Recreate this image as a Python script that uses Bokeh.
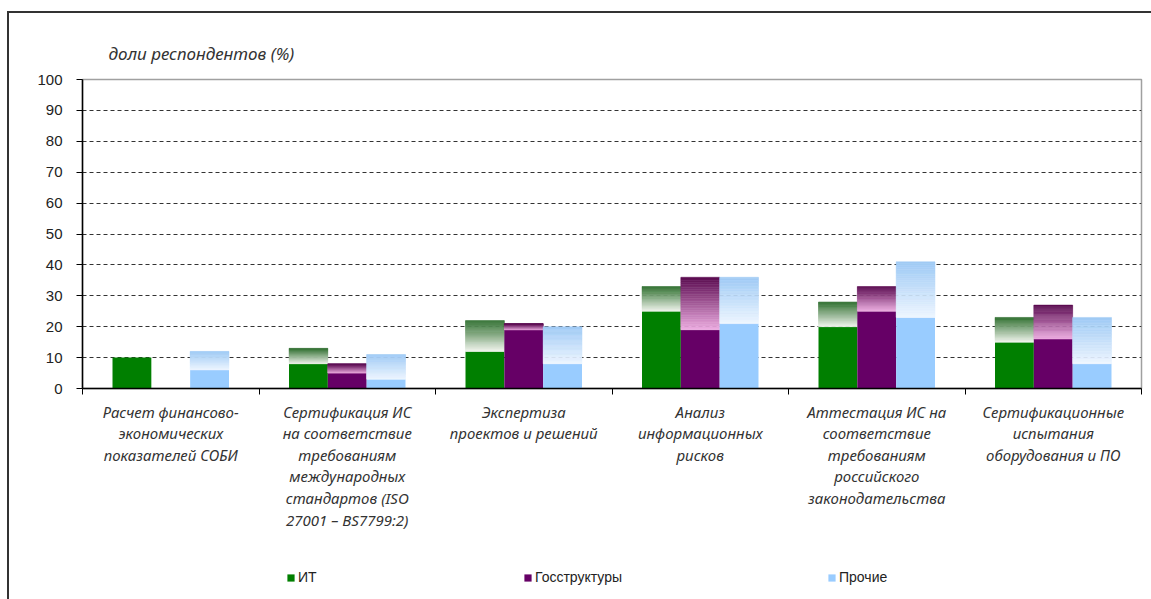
import numpy as np
from bokeh.plotting import figure
from bokeh.layouts import column
from bokeh.models import Range1d, FixedTicker, Legend, LegendItem
from bokeh.embed import file_html
from bokeh.resources import INLINE

categories = [
    "Расчет финансово-\nэкономических\nпоказателей СОБИ",
    "Сертификация ИС\nна соответствие\nтребованиям\nмеждународных\nстандартов (ISO\n27001 – BS7799:2)",
    "Экспертиза\nпроектов и решений",
    "Анализ\nинформационных\nрисков",
    "Аттестация ИС на\nсоответствие\nтребованиям\nроссийского\nзаконодательства",
    "Сертификационные\nиспытания\nоборудования и ПО",
]
series_names = ["ИТ", "Госструктуры", "Прочие"]
# solid (lower) part and total height of each bar, % of respondents
it_solid = [10, 8, 12, 25, 20, 15]
it_total = [10, 13, 22, 33, 28, 23]
gov_solid = [0, 5, 19, 19, 25, 16]
gov_total = [0, 8, 21, 36, 33, 27]
oth_solid = [6, 3, 8, 21, 23, 8]
oth_total = [12, 11, 20, 36, 41, 23]
y_ticks = [0, 10, 20, 30, 40, 50, 60, 70, 80, 90, 100]

solid_colors = ["#007f00", "#660066", "#99ccff"]
grad_top = ["#2f6f2f", "#5a0a50", "#9fcaf5"]
grad_bottom = ["#f2f5ee", "#eeaee2", "#eef6ff"]

FONT = "Liberation Sans"
IFONT = "Noto Sans"

frame_css = ("linear-gradient(#333,#333) 7px 11px / 100% 2px no-repeat, "
             "linear-gradient(#333,#333) 7px 11px / 2px 100% no-repeat")

MAIN_H = 560
LEG_H = 599 - MAIN_H

p = figure(width=1151, height=MAIN_H, output_backend="svg", toolbar_location=None,
           x_range=Range1d(0, 6), y_range=Range1d(0, 100),
           min_border_left=82, min_border_right=10, min_border_top=79,
           min_border_bottom=MAIN_H - 79 - 309,
           background_fill_color="white", border_fill_alpha=0)

p.outline_line_color = "#a0a0a0"
p.outline_line_width = 1.5

p.title.text = "доли респондентов (%)"
p.title.text_font = IFONT
p.title.text_font_style = "italic"
p.title.text_font_size = "17px"
p.title.text_color = "#333333"
p.title.align = "left"
p.title.offset = 26
p.title.standoff = 29


def hex2rgb(h):
    h = h.lstrip("#")
    return np.array([int(h[i:i + 2], 16) for i in (0, 2, 4)], dtype=float)


def rgb2hex(c):
    return "#%02x%02x%02x" % tuple(int(round(v)) for v in c)


bw = 0.22
N = 30
solids = [it_solid, gov_solid, oth_solid]
totals = [it_total, gov_total, oth_total]
for s in range(3):
    offs = (s - 1) * bw
    centers = np.arange(len(categories)) + 0.5 + offs
    p.quad(left=centers - bw / 2, right=centers + bw / 2,
           bottom=np.zeros(len(categories)), top=solids[s],
           fill_color=solid_colors[s], line_color=None)
    L, R, B, T, C = [], [], [], [], []
    ct, cb = hex2rgb(grad_top[s]), hex2rgb(grad_bottom[s])
    for i in range(len(categories)):
        lo, hi = solids[s][i], totals[s][i]
        if hi <= lo:
            continue
        edges = np.linspace(lo, hi, N + 1)
        for k in range(N):
            f = (k + 0.5) / N  # 0 bottom -> 1 top
            L.append(centers[i] - bw / 2)
            R.append(centers[i] + bw / 2)
            B.append(edges[k])
            T.append(edges[k + 1])
            C.append(rgb2hex(cb + (ct - cb) * f))
    p.quad(left=L, right=R, bottom=B, top=T, fill_color=C, line_color=C, line_width=0.5)

# y axis
p.yaxis.ticker = FixedTicker(ticks=y_ticks)
p.yaxis.axis_line_color = "black"
p.yaxis.axis_line_width = 1.5
p.yaxis.major_tick_out = 6
p.yaxis.major_tick_in = 0
p.yaxis.major_tick_line_color = "black"
p.yaxis.minor_tick_line_color = None
p.yaxis.major_label_standoff = 14
p.yaxis.major_label_text_font = FONT
p.yaxis.major_label_text_font_size = "15px"
p.yaxis.major_label_text_color = "#222222"

# x axis
cat_pos = [i + 0.5 for i in range(len(categories))]
p.xaxis.ticker = FixedTicker(ticks=cat_pos, minor_ticks=list(range(len(categories) + 1)))
p.xaxis.major_label_overrides = {c: lab for c, lab in zip(cat_pos, categories)}
p.xaxis.axis_line_color = "black"
p.xaxis.axis_line_width = 1.5
p.xaxis.major_tick_line_color = None
p.xaxis.minor_tick_out = 6
p.xaxis.minor_tick_in = 0
p.xaxis.minor_tick_line_color = "black"
p.xaxis.major_label_standoff = 7
p.xaxis.major_label_text_font = IFONT
p.xaxis.major_label_text_font_style = "italic"
p.xaxis.major_label_text_font_size = "15px"
p.xaxis.major_label_text_color = "#333333"
p.xaxis.major_label_text_line_height = 1.08

# grid
p.xgrid.grid_line_color = None
p.ygrid.ticker = FixedTicker(ticks=y_ticks[1:-1])
p.ygrid.grid_line_color = "#333333"
p.ygrid.grid_line_dash = "4 3"
p.ygrid.grid_line_width = 1

# legend strip below the chart (its bars lie outside the strip's visible range)
pl = figure(width=1151, height=LEG_H, output_backend="svg", toolbar_location=None,
            x_range=Range1d(0, 1), y_range=Range1d(-1, 0), x_axis_type=None, y_axis_type=None,
            min_border=0, min_border_left=0, min_border_right=0, min_border_top=0,
            min_border_bottom=0, outline_line_color=None,
            background_fill_alpha=0, border_fill_alpha=0)
pl.grid.visible = False
items = []
for s in range(3):
    offs = (s - 1) * bw
    centers = np.arange(len(categories)) + 0.5 + offs
    r = pl.quad(left=centers - bw / 2, right=centers + bw / 2,
                bottom=np.zeros(len(categories)) + 0.5, top=np.array(totals[s]) + 1,
                fill_color=solid_colors[s], line_color=None)
    items.append(LegendItem(label=series_names[s], renderers=[r]))
legend = Legend(items=items, orientation="horizontal", location=(204, 14),
                spacing=205, glyph_width=9, glyph_height=9, label_standoff=3,
                padding=0, margin=0, border_line_color=None, background_fill_alpha=0,
                label_text_font=FONT, label_text_font_size="14px", label_text_color="#222222")
pl.add_layout(legend, "center")

layout = column(p, pl, spacing=0, styles={"background": frame_css})

open("out.html", "w").write(file_html(layout, INLINE))
